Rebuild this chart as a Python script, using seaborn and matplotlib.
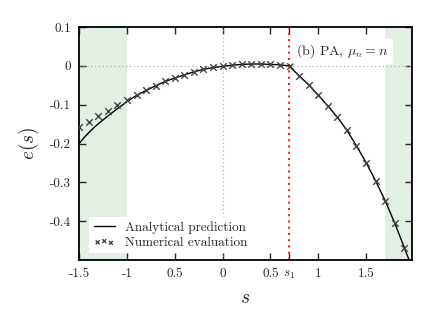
import numpy as np
import pandas as pd
import seaborn as sns
import matplotlib
matplotlib.use("Agg")
import matplotlib.pyplot as plt

# --- data ---
S1 = 0.693

# numerical evaluation (crosses)
s_num = [-1.5, -1.4, -1.3, -1.2, -1.1, -1.0, -0.9, -0.8, -0.7, -0.6, -0.5, -0.4,
         -0.3, -0.2, -0.1, 0.0, 0.1, 0.2, 0.3, 0.4, 0.5, 0.6, 0.7, 0.8, 0.9,
         1.0, 1.1, 1.2, 1.3, 1.4, 1.5, 1.6, 1.7, 1.8, 1.9]
e_num = [-0.157, -0.144, -0.129, -0.115, -0.101, -0.088, -0.075, -0.062, -0.051,
         -0.040, -0.031, -0.023, -0.015, -0.009, -0.004, -0.001, 0.002, 0.004,
         0.005, 0.005, 0.004, 0.003, -0.001, -0.025, -0.049, -0.075, -0.103,
         -0.132, -0.166, -0.206, -0.249, -0.296, -0.347, -0.405, -0.468]

# analytical prediction (solid line)
s_ana = [-1.5, -1.45, -1.4, -1.35, -1.3, -1.25, -1.2, -1.1, -1.0, -0.9, -0.8,
         -0.7, -0.6, -0.5, -0.4, -0.3, -0.2, -0.1, 0.0, 0.1, 0.2, 0.3, 0.4,
         0.5, 0.6, 0.693, 0.8, 0.9, 1.0, 1.1, 1.2, 1.3, 1.4, 1.5, 1.6, 1.7,
         1.8, 1.9, 1.95]
e_ana = [-0.200, -0.185, -0.172, -0.160, -0.149, -0.139, -0.129, -0.110, -0.092,
         -0.076, -0.063, -0.051, -0.040, -0.031, -0.023, -0.015, -0.009, -0.004,
         -0.001, 0.002, 0.004, 0.005, 0.005, 0.004, 0.003, 0.0, -0.025, -0.049,
         -0.075, -0.103, -0.132, -0.166, -0.206, -0.249, -0.296, -0.347, -0.405,
         -0.468, -0.500]

x_ticks = [-1.5, -1.0, -0.5, 0.0, 0.5, S1, 1.0, 1.5]
x_ticklabels = ["-1.5", "-1", "0.5", "0", "0.5", "$s_1$", "1", "1.5"]
y_ticks = [0.1, 0.0, -0.1, -0.2, -0.3, -0.4]
y_ticklabels = ["0.1", "0", "-0.1", "-0.2", "-0.3", "-0.4"]

shade_spans = [(-1.5, -1.0), (1.7, 1.98)]

sns.set_style("ticks")
plt.rcParams["font.family"] = ["cmr10", "DejaVu Serif"]
plt.rcParams["mathtext.fontset"] = "cm"
plt.rcParams["axes.unicode_minus"] = False
plt.rcParams["axes.formatter.use_mathtext"] = True

df_num = pd.DataFrame({"s": s_num, "e": e_num})
df_ana = pd.DataFrame({"s": s_ana, "e": e_ana})

fig = plt.figure(figsize=(4.35, 3.27), dpi=100)
ax = fig.add_axes([0.182, 0.205, 0.765, 0.712])

for a, b in shade_spans:
    ax.axvspan(a, b, color="#e2efe2", lw=0, zorder=0)

ax.axhline(0, color="#aaaaaa", ls=(0, (1, 2.5)), lw=0.8, zorder=1)
ax.axvline(0, color="#aaaaaa", ls=(0, (1, 2.5)), lw=0.8, zorder=1)
ax.axvline(S1, color="#ff2020", ls=(0, (1, 2)), lw=1.5, zorder=2)

sns.lineplot(data=df_ana, x="s", y="e", ax=ax, color="black", lw=1.0,
             sort=False, label="Analytical prediction", zorder=3)
sns.scatterplot(data=df_num, x="s", y="e", ax=ax, marker="x", color="#444444",
                s=22, linewidth=1.0, label="Numerical evaluation", zorder=4)

ax.set_xlim(-1.5, 1.98)
ax.set_ylim(-0.5, 0.1)
ax.set_xticks(x_ticks)
ax.set_xticklabels(x_ticklabels)
ax.set_yticks(y_ticks)
ax.set_yticklabels(y_ticklabels)
ax.tick_params(direction="in", top=True, right=True, length=5, width=1.0,
               labelsize=9.5, pad=6)
for sp in ax.spines.values():
    sp.set_linewidth(1.3)
    sp.set_color("black")

ax.set_xlabel("$s$", fontsize=14, labelpad=6)
ax.set_ylabel("$e(s)$", fontsize=14, labelpad=6)

leg = ax.legend(loc="lower left", bbox_to_anchor=(0.01, 0.0), frameon=True,
                fontsize=9.5, scatterpoints=3, markerscale=0.6,
                handlelength=1.6, handletextpad=0.8,
                borderpad=0.35, labelspacing=0.2, fancybox=False)
leg.get_frame().set_edgecolor("none")
leg.get_frame().set_facecolor("white")
leg.get_frame().set_alpha(1.0)

ax.text(0.93, 0.895, r"(b) PA, $\mu_n = n$", transform=ax.transAxes,
        ha="right", va="center", fontsize=10, zorder=6,
        bbox=dict(boxstyle="round,pad=0.3", fc="white", ec="none"))

fig.savefig("out.png", dpi=100)
